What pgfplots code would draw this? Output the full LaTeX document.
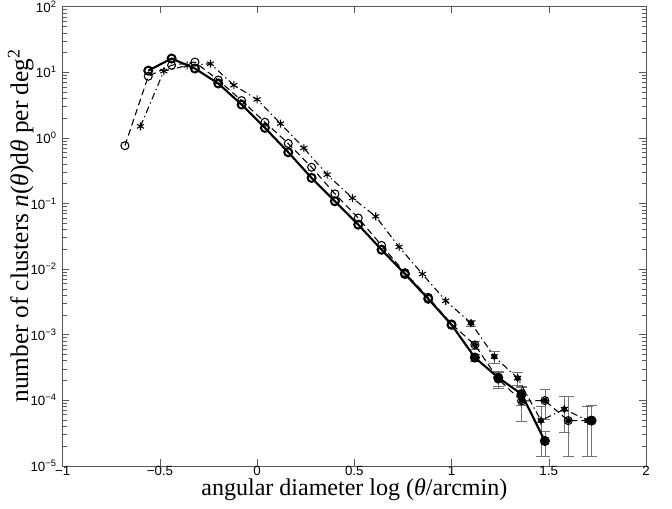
\documentclass[border=0pt]{standalone}
\usepackage{pgfplots}
\pgfplotsset{compat=1.18}
\usepackage{pgfplotstable}
\usepackage{fontspec}
\setmainfont{Liberation Serif}
\setsansfont{Liberation Sans}

\pgfplotstableread{
x y
-0.56 10.6
-0.44 16.2
-0.32 11.4
-0.20 6.75
-0.08 3.22
0.04 1.42
0.16 0.603
0.28 0.245
0.40 0.108
0.52 0.0475
0.64 0.0197
0.76 0.0084
0.88 0.00352
1.00 0.00141
1.12 4.47e-4
1.24 2.21e-4
1.36 1.24e-4
1.48 2.39e-5
1.60 nan
1.72 4.89e-5
}\seriesA

\pgfplotstableread{
x y
-0.68 0.76
-0.56 8.7
-0.44 12.8
-0.32 14.3
-0.20 7.6
-0.08 3.7
0.04 1.73
0.16 0.82
0.28 0.356
0.40 0.140
0.52 0.060
0.64 0.0229
0.76 0.0088
0.88 0.0037
1.00 0.00145
1.12 6.98e-4
1.24 2.1e-4
1.36 9.75e-5
1.48 9.87e-5
1.60 4.89e-5
1.72 4.89e-5
}\seriesB

\pgfplotstableread{
x y
-0.60 1.50
-0.48 10.4
-0.36 12.7
-0.24 13.5
-0.12 6.35
0.00 3.85
0.12 1.65
0.24 0.70
0.36 0.275
0.49 0.121
0.61 0.0635
0.73 0.0217
0.85 0.0084
0.97 0.00328
1.10 0.0015
1.22 4.63e-4
1.34 2.17e-4
1.46 4.9e-5
1.58 7.3e-5
1.70 4.9e-5
}\seriesC

% error bars: x y plus minus
\pgfplotstableread{
x y ep em
1.12 4.47e-4 0.6e-4 0.6e-4
1.24 2.21e-4 0.6e-4 0.6e-4
1.36 1.24e-4 0.4e-4 0.4e-4
1.48 2.39e-5 1.0e-5 1.0e-5
1.72 4.89e-5 3.4e-5 3.5e-5
}\errA

\pgfplotstableread{
x y ep em
1.12 6.98e-4 1.0e-4 1.0e-4
1.24 2.1e-4 0.6e-4 0.6e-4
1.36 9.75e-5 6.0e-5 5.0e-5
1.48 9.87e-5 4.8e-5 4.8e-5
1.60 4.89e-5 6.4e-5 3.5e-5
1.72 4.89e-5 3.4e-5 3.5e-5
}\errB

\pgfplotstableread{
x y ep em
1.10 1.5e-3 1.5e-4 1.5e-4
1.22 4.63e-4 1.0e-4 1.0e-4
1.34 2.17e-4 0.5e-4 0.5e-4
1.46 4.9e-5 3.3e-5 3.5e-5
1.58 7.3e-5 4.0e-5 4.0e-5
1.70 4.9e-5 3.3e-5 3.5e-5
}\errC

\begin{document}
\begin{tikzpicture}
\begin{axis}[
  scale only axis,
  width=437pt, height=344pt,
  xmin=-1, xmax=2,
  ymin=1e-5, ymax=1e2,
  ymode=log,
  xtick={-1,-0.5,0,0.5,1,1.5,2},
  xticklabels={−1,−0.5,0,0.5,1,1.5,2},
  ytick={1e-5,1e-4,1e-3,1e-2,1e-1,1,10,100},
  yticklabels={10\textsuperscript{−5},10\textsuperscript{−4},10\textsuperscript{−3},10\textsuperscript{−2},10\textsuperscript{−1},10\textsuperscript{0},10\textsuperscript{1},10\textsuperscript{2}},
  yminorticks=true,
  tick align=inside,
  major tick length=5pt,
  minor tick length=3pt,
  axis line style={black!65},
  every tick/.style={black!65},
  ticklabel style={font=\sffamily\fontsize{10}{11}\selectfont},
  xticklabel style={yshift=3pt},
  yticklabel style={xshift=-1pt},
  xlabel={angular diameter log (\textit{θ}/arcmin)},
  ylabel={number of clusters \textit{n}(\textit{θ})d\textit{θ} per deg\textsuperscript{2}},
  xlabel style={font=\fontsize{18}{21}\selectfont, at={(axis description cs:0.5,-0.052)}, anchor=center},
  ylabel style={font=\fontsize{19}{22}\selectfont, at={(axis description cs:-0.072,0.523)}, anchor=center},
  unbounded coords=jump,
  clip=false,
]
% error bars
\addplot[forget plot, only marks, mark=none,
  error bars/.cd, y dir=both, y explicit,
  error bar style={black!55, line width=0.4pt, solid},
  error mark options={rotate=90, mark size=4pt, black!55, line width=0.4pt}]
  table[x=x, y=y, y error plus=ep, y error minus=em] {\errC};
\addplot[forget plot, only marks, mark=none,
  error bars/.cd, y dir=both, y explicit,
  error bar style={black!55, line width=0.4pt, solid},
  error mark options={rotate=90, mark size=4pt, black!55, line width=0.4pt}]
  table[x=x, y=y, y error plus=ep, y error minus=em] {\errB};
\addplot[forget plot, only marks, mark=none,
  error bars/.cd, y dir=both, y explicit,
  error bar style={black!55, line width=0.4pt, solid},
  error mark options={rotate=90, mark size=4pt, black!55, line width=0.4pt}]
  table[x=x, y=y, y error plus=ep, y error minus=em] {\errA};
% series C: dash-dot, asterisks
\addplot[black, line width=0.8pt, dash pattern=on 5pt off 2.5pt on 1pt off 2.5pt,
  mark=asterisk, mark size=3pt, mark options={solid, line width=0.8pt}]
  table[x=x, y=y] {\seriesC};
% series B: dashed, open circles
\addplot[black, line width=0.8pt, dash pattern=on 5pt off 3pt,
  mark=o, mark size=3pt, mark options={solid, line width=0.8pt}]
  table[x=x, y=y] {\seriesB};
% series A: thick solid, bold circles
\addplot[black, line width=1.6pt,
  mark=o, mark size=3pt, mark options={solid, line width=1.5pt, fill=white}]
  table[x=x, y=y] {\seriesA};
\end{axis}
\pgfresetboundingbox
\path ([xshift=-47pt, yshift=-32pt]current axis.south west) rectangle ([xshift=19.5pt, yshift=5pt]current axis.north east);
\end{tikzpicture}
\end{document}
